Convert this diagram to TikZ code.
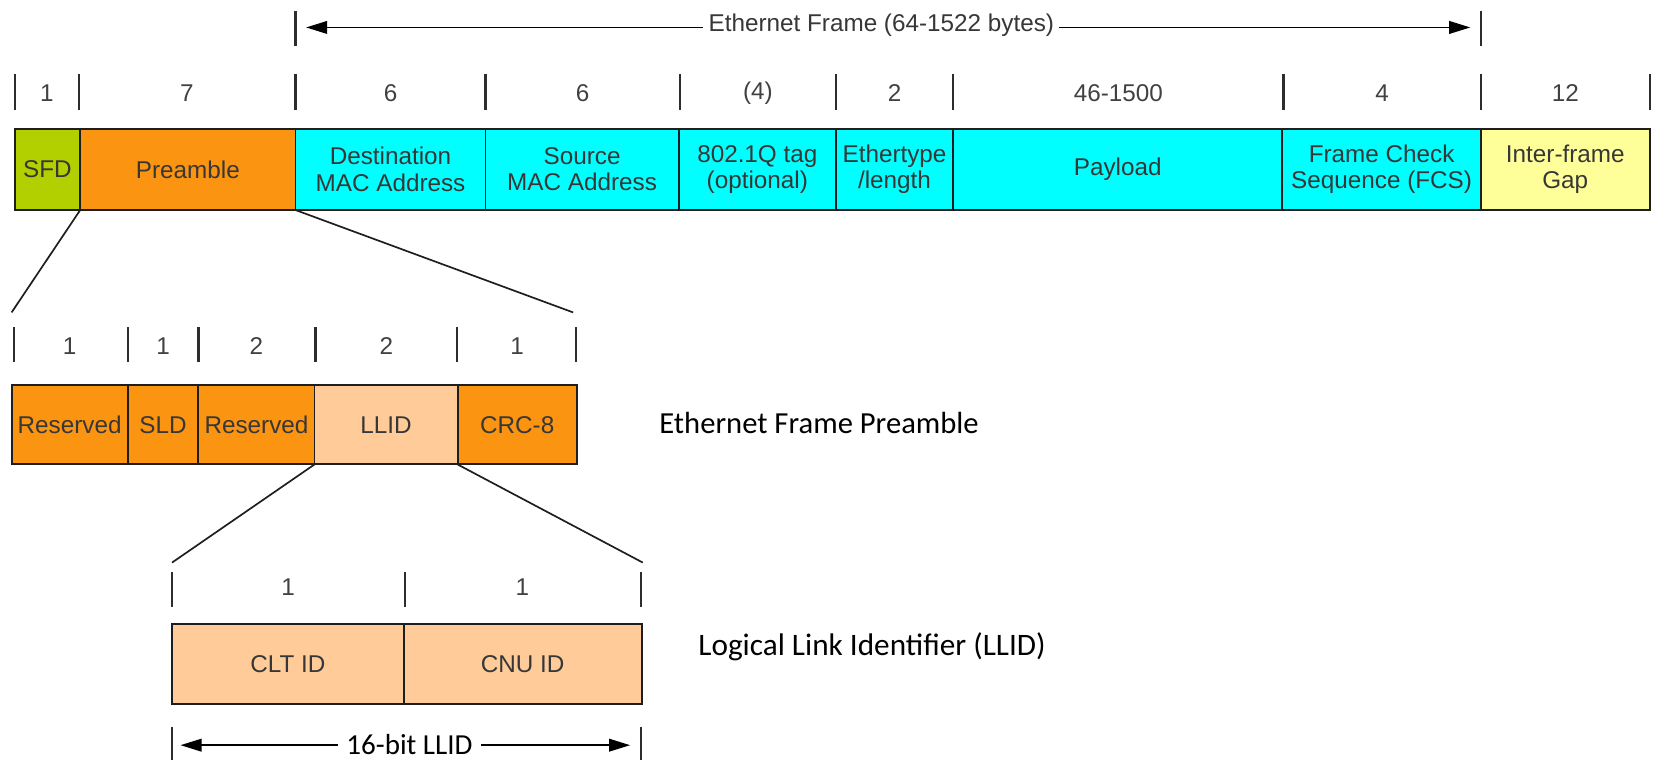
\documentclass[tikz,border=0pt]{standalone}
\usepackage{fontspec}
\setmainfont{Liberation Sans}
\newfontfamily\calibrifont{Carlito}
\usetikzlibrary{arrows.meta}

\definecolor{sfdgreen}{RGB}{178,207,0}
\definecolor{preorange}{RGB}{251,148,17}
\definecolor{fieldcyan}{RGB}{0,255,255}
\definecolor{gapyellow}{RGB}{255,255,153}
\definecolor{peach}{RGB}{255,204,153}
\definecolor{boxline}{RGB}{30,30,30}
\definecolor{fieldtext}{RGB}{55,55,55}
\definecolor{numgray}{RGB}{65,65,65}
\definecolor{tickgray}{RGB}{45,45,45}

\begin{document}
\begin{tikzpicture}[x=1pt,y=-1pt,
  field/.style={draw=boxline, line width=1.8pt, inner sep=0pt, outer sep=0pt,
    align=center, text=fieldtext, font=\fontsize{23}{25}\selectfont},
  tickmark/.style={draw=tickgray, line width=2.2pt},
  num/.style={text=numgray, font=\fontsize{23}{25}\selectfont, inner sep=0pt},
  zoomline/.style={draw=boxline, line width=1.6pt},
  span/.style={draw=black, line width=1.6pt,
    {Triangle[length=20pt,width=12pt]}-{Triangle[length=20pt,width=12pt]}},
  spantext/.style={fill=white, inner xsep=5pt, inner ysep=2pt},
  caption/.style={font=\calibrifont\fontsize{29.3}{32}\selectfont, text=black,
    anchor=west, inner sep=0pt}
]
\useasboundingbox (0,0) rectangle (1568,720);

% ---------------- Ethernet frame ----------------
\draw[tickmark] (280,10) -- (280,44);
\draw[tickmark] (1403,10) -- (1403,44);
\coordinate (fl) at (290,26);
\coordinate (fr) at (1393,26);
\draw[span] (fl) -- (fr);
\node[spantext, text=fieldtext, font=\fontsize{23}{25}\selectfont] (frametitle) at (835,24)
  {Ethernet Frame (64-1522 bytes)};

\foreach \x in {14,75,280,460,644,792,903,1216,1403,1563}
  \draw[tickmark] (\x,70) -- (\x,104);
\foreach \x/\t [count=\i] in {44.5/1, 177/7, 370/6, 552/6, 718/{(4)}, 847.5/2,
    1059.5/46-1500, 1309.5/4, 1483/12}
  \node[num] (fbytes\i) at (\x,88) {\t};

\node[field, fill=sfdgreen,   minimum width=62pt,  minimum height=77pt] (sfd)  at (45,160.5)    {SFD};
\node[field, fill=preorange,  minimum width=204pt, minimum height=77pt] (pre)  at (178,160.5)   {Preamble};
\node[field, fill=fieldcyan,  minimum width=180pt, minimum height=77pt] (dst)  at (370,160.5)   {Destination\\MAC Address};
\node[field, fill=fieldcyan,  minimum width=183pt, minimum height=77pt] (src)  at (551.5,160.5) {Source\\MAC Address};
\node[field, fill=fieldcyan,  minimum width=149pt, minimum height=77pt] (tag)  at (717.5,160.5) {802.1Q tag\\(optional)};
\node[field, fill=fieldcyan,  minimum width=111pt, minimum height=77pt] (etyp) at (847.5,160.5) {Ethertype\\/length};
\node[field, fill=fieldcyan,  minimum width=312pt, minimum height=77pt] (pay)  at (1059,160.5)  {Payload};
\node[field, fill=fieldcyan,  minimum width=188pt, minimum height=77pt] (fcs)  at (1309,160.5)  {Frame Check\\Sequence (FCS)};
\node[field, fill=gapyellow,  minimum width=160pt, minimum height=77pt] (ifg)  at (1483,160.5)  {Inter-frame\\Gap};

% ---------------- Preamble detail ----------------
\coordinate (pl) at (11,296);
\coordinate (pr) at (543,296);
\draw[zoomline] (sfd.south east) -- (pl);
\draw[zoomline] (pre.south east) -- (pr);

\foreach \x in {13,121,188,299,433,546}
  \draw[tickmark] (\x,310) -- (\x,343);
\foreach \x/\t [count=\i] in {66/1, 154.5/1, 243/2, 366/2, 490/1}
  \node[num] (pbytes\i) at (\x,328) {\t};

\node[field, fill=preorange, minimum width=110pt,   minimum height=75pt] (resa) at (66,402.5)     {Reserved};
\node[field, fill=preorange, minimum width=67pt,    minimum height=75pt] (sld)  at (154.5,402.5)  {SLD};
\node[field, fill=preorange, minimum width=110pt,   minimum height=75pt] (resb) at (243,402.5)    {Reserved};
\node[field, fill=peach,     minimum width=135.5pt, minimum height=75pt] (llid) at (365.75,402.5) {LLID};
\node[field, fill=preorange, minimum width=113pt,   minimum height=75pt] (crc)  at (490,402.5)    {CRC-8};

\node[caption, font=\calibrifont\fontsize{29}{32}\selectfont] (precap) at (624.5,401) {Ethernet Frame Preamble};

% ---------------- LLID detail ----------------
\coordinate (ll) at (163,533);
\coordinate (lr) at (609,533);
\draw[zoomline] (resb.south east) -- (ll);
\draw[zoomline] (llid.south east) -- (lr);

\foreach \x in {163,384,607}
  \draw[tickmark] (\x,542) -- (\x,575);
\foreach \x/\t [count=\i] in {273/1, 495/1}
  \node[num] (lbytes\i) at (\x,556) {\t};

\node[field, fill=peach, minimum width=219.5pt, minimum height=76pt] (clt) at (272.75,629) {CLT ID};
\node[field, fill=peach, minimum width=225.5pt, minimum height=76pt] (cnu) at (495.25,629) {CNU ID};

\node[caption, font=\calibrifont\fontsize{29.6}{32}\selectfont] (llidcap) at (661.5,612.5) {Logical Link Identifier (LLID)};

\draw[tickmark] (163,689) -- (163,722);
\draw[tickmark] (607,689) -- (607,722);
\coordinate (bl) at (171,706);
\coordinate (br) at (597,706);
\draw[span] (bl) -- (br);
\node[spantext, font=\calibrifont\fontsize{27.5}{30}\selectfont, inner xsep=8pt] (bits) at (388,705) {16-bit LLID};
\end{tikzpicture}
\end{document}
